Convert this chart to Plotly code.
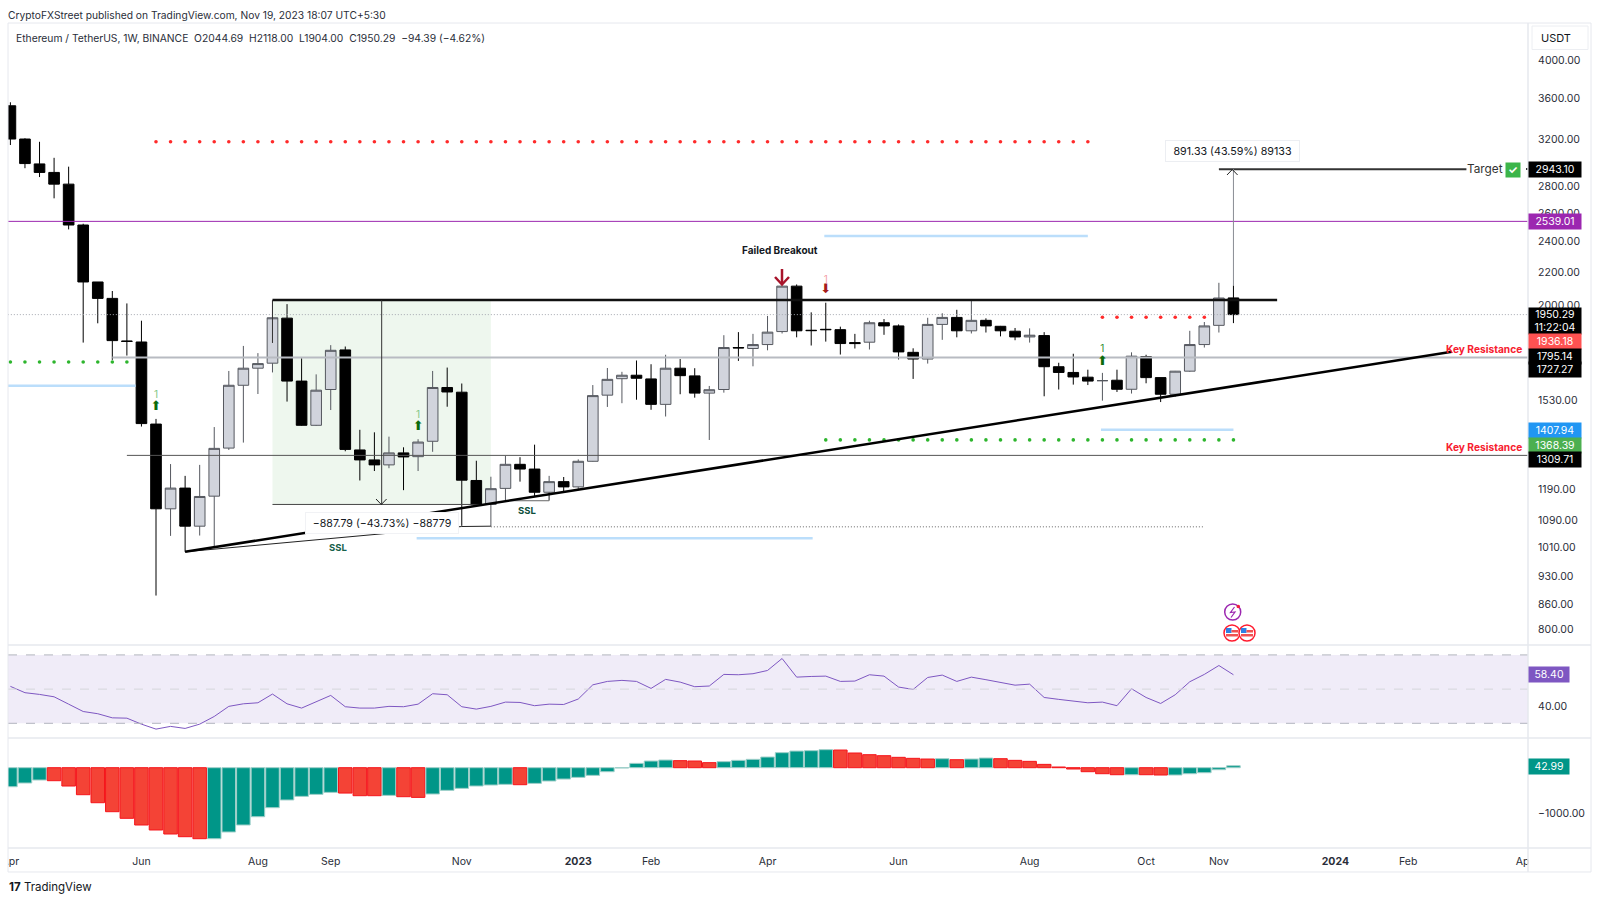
import pandas as pd
import numpy as np
import plotly.graph_objects as go

W, H = 1600, 902
FONT = "Inter"
INK = "#131722"
BORDER = "#e6e8ee"

# weekly candles, ETH/USDT
first_week = pd.Timestamp("2022-04-04")
open_prices = [3521, 3205, 2987, 2916, 2821, 2513, 2139, 2042, 1810, 1805, 1431, 1126, 1194, 1072, 1167, 1337, 1597,
               1676, 1700, 1931, 1616, 1426, 1578, 1765, 1330, 1293, 1275, 1319, 1305, 1363, 1587, 1566, 1220, 1140,
               1193, 1277, 1260, 1180, 1216, 1198, 1288, 1553, 1627, 1643, 1626, 1513, 1676, 1640, 1562, 1578, 1777,
               1772, 1792, 1859, 2114, 1866, 1871, 1869, 1802, 1804, 1906, 1889, 1753, 1720, 1897, 1935, 1863, 1919,
               1887, 1861, 1831, 1838, 1683, 1656, 1634, 1618, 1620, 1579, 1732, 1632, 1557, 1662, 1792, 1892, 2044.69]
high_prices = [3556, 3212, 3180, 3039, 2964, 2522, 2139, 2085, 2013, 1917, 1452, 1278, 1236, 1275, 1419, 1663, 1785,
               1749, 2032, 2009, 1724, 1647, 1789, 1782, 1408, 1398, 1381, 1340, 1371, 1663, 1679, 1605, 1290, 1233,
               1308, 1303, 1350, 1236, 1232, 1295, 1598, 1677, 1659, 1713, 1695, 1741, 1720, 1676, 1594, 1840, 1856,
               1847, 1943, 2118, 2124, 1963, 2017, 1885, 1847, 1917, 1926, 1897, 1773, 1933, 1958, 1977, 2030, 1930,
               1889, 1878, 1876, 1856, 1702, 1746, 1669, 1654, 1669, 1753, 1741, 1632, 1663, 1863, 1910, 2134, 2118.00]
low_prices = [3151, 2951, 2878, 2710, 2482, 1802, 1903, 1716, 1737, 1421, 881, 1043, 997, 1044, 1008, 1330, 1358,
              1558, 1656, 1525, 1424, 1424, 1489, 1325, 1220, 1253, 1263, 1187, 1253, 1323, 1503, 1073, 1135, 1072,
              1152, 1216, 1165, 1154, 1182, 1190, 1287, 1502, 1518, 1533, 1490, 1462, 1557, 1542, 1368, 1564, 1711,
              1685, 1763, 1849, 1829, 1787, 1807, 1742, 1772, 1767, 1842, 1718, 1626, 1698, 1816, 1829, 1849, 1854,
              1834, 1814, 1802, 1548, 1578, 1600, 1598, 1529, 1567, 1560, 1606, 1523, 1546, 1659, 1777, 1854, 1904.00]
close_prices = [3205, 2990, 2916, 2821, 2513, 2139, 2042, 1812, 1808, 1433, 1126, 1194, 1072, 1166, 1336, 1597, 1676,
                1698, 1933, 1616, 1426, 1575, 1763, 1332, 1293, 1275, 1319, 1304, 1360, 1587, 1567, 1221, 1139, 1192,
                1277, 1260, 1180, 1216, 1198, 1288, 1551, 1624, 1643, 1629, 1513, 1676, 1641, 1562, 1577, 1777, 1775,
                1792, 1856, 2114, 1863, 1864, 1869, 1797, 1797, 1906, 1889, 1755, 1720, 1897, 1935, 1863, 1919, 1889,
                1863, 1831, 1840, 1683, 1656, 1635, 1616, 1618, 1579, 1734, 1632, 1557, 1662, 1792, 1889, 2044, 1950.29]

rsi_values = [51.6, 47.9, 46.9, 45.5, 41.2, 36.9, 35.6, 33.2, 33.0, 29.5, 26.6, 28.2, 27.0, 29.5, 34.0, 39.9, 41.4,
              42.0, 47.1, 41.4, 38.9, 42.4, 46.3, 39.7, 38.9, 38.9, 39.9, 39.7, 41.2, 47.3, 46.7, 39.7, 38.3, 39.9,
              42.4, 42.2, 40.3, 41.2, 41.0, 44.2, 52.5, 54.5, 55.1, 54.5, 50.4, 55.7, 54.1, 51.4, 51.8, 58.6, 58.4,
              59.0, 60.9, 67.9, 57.0, 57.4, 57.6, 54.5, 54.7, 58.4, 57.6, 51.2, 49.8, 56.8, 58.2, 54.5, 57.0, 55.5,
              54.1, 52.3, 52.9, 45.1, 44.0, 43.0, 42.0, 42.4, 40.3, 50.2, 45.1, 41.6, 46.7, 54.3, 58.6, 63.8, 58.4]

macd_values = [-417, -336, -270, -285, -402, -592, -768, -965, -1110, -1257, -1366, -1454, -1513, -1557, -1557, -1410,
               -1257, -1075, -877, -708, -629, -585, -541, -556, -614, -614, -607, -636, -651, -577, -497, -453, -402,
               -380, -365, -373, -344, -292, -249, -212, -168, -88, -7, 95, 146, 168, 154, 146, 110, 132, 161, 183,
               234, 329, 365, 373, 395, 387, 322, 285, 263, 227, 205, 190, 197, 175, 190, 212, 197, 161, 139, 73, 15,
               -29, -88, -132, -154, -154, -154, -161, -161, -132, -110, -44, 42.99]
macd_signs = list("ggg" + "r" * 11 + "g" * 9 + "rrr" + "g" + "rr" + "g" * 6 + "r" + "g" * 10 + "rrr" + "g" * 8
                  + "r" * 7 + "g" + "r" + "gg" + "r" * 9 + "g" + "rr" + "ggggg")

# axis ticks
price_ticks = [4000, 3600, 3200, 2800, 2600, 2400, 2200, 2000, 1530, 1190, 1090, 1010, 930, 860, 800]
time_ticks = ["2022-04-04", "2022-06-06", "2022-08-01", "2022-09-05", "2022-11-07", "2023-01-02", "2023-02-06",
              "2023-04-03", "2023-06-05", "2023-08-07", "2023-10-02", "2023-11-06", "2024-01-01", "2024-02-05",
              "2024-04-01"]
time_labels = ["Apr", "Jun", "Aug", "Sep", "Nov", "<b>2023</b>", "Feb", "Apr", "Jun", "Aug", "Oct", "Nov",
               "<b>2024</b>", "Feb", "Apr"]

# drawn levels on the price pane
target_level = 2943.10
purple_level = 2539.01
last_close = 1950.29
breakout_level = 2032
gray_level = 1727.27
key_level = 1309.71
blue_level = 1407.94
green_level = 1368.39
red_dots_high = 3180
red_dots_low = 1936.18
green_dots_left = 1706
zone_bottom = 1140
dotted_low = 1070

# axis-side price tags: text, colour, pixel centre
tags = [("2943.10", "#000000", 169), ("2539.01", "#9c27b0", 221.3), ("1950.29<br>11:22:04", "#000000", 321),
        ("1936.18", "#ff5252", 341.5), ("1795.14", "#000000", 356), ("1727.27", "#000000", 370),
        ("1407.94", "#2196f3", 430), ("1368.39", "#4caf50", 445), ("1309.71", "#000000", 459),
        ("58.40", "#7e57c2", 674.5), ("42.99", "#009688", 766)]


def wk(i):
    return first_week + pd.Timedelta(days=7 * i)


def px(x, y):
    return x / W, 1 - y / H


def path(points):
    parts = ["%.5f,%.5f" % px(x, y) for x, y in points]
    return "M " + " L ".join(parts)


weeks = [wk(i) for i in range(len(close_prices))]
fig = go.Figure()


def add_line(x_weeks, prices, color, width=1, dash="solid"):
    fig.add_trace(go.Scatter(x=[wk(i) for i in x_weeks], y=prices, mode="lines", hoverinfo="skip",
                             line=dict(color=color, width=width, dash=dash)))


def add_dots(x_weeks, price, color):
    fig.add_trace(go.Scatter(x=[wk(i) for i in x_weeks], y=[price] * len(x_weeks), mode="markers",
                             marker=dict(color=color, size=3.6), hoverinfo="skip"))


RIGHT = 104.3
add_line([-1, RIGHT], [last_close, last_close], "#a5a8b0", 1, "1px,2px")
add_line([-1, RIGHT], [purple_level, purple_level], "#9c27b0", 1)
add_line([7, RIGHT], [gray_level, gray_level], "#b8bbc2", 2)
add_line([8, RIGHT], [key_level, key_level], "#555555", 1)
add_line([-1, 8.6], [1595, 1595], "#bbdefb", 2.5)
add_line([55.9, 74], [2436, 2436], "#bbdefb", 2.5)
add_line([27.9, 55.1], [1036, 1036], "#bbdefb", 2.5)
add_line([74.9, 84], [blue_level, blue_level], "#bbdefb", 2.5)
add_line([18, 87], [breakout_level, breakout_level], "#111111", 2.5)
add_line([18, 18], [breakout_level, 1800], "#333333", 1)
add_line([18, 33], [zone_bottom, zone_bottom], "#444444", 1)
add_line([25.5, 25.5], [breakout_level, zone_bottom], "#333333", 1)
add_line([83, 100], [target_level, target_level], "#333333", 2)
add_line([84, 84], [target_level, 2118], "#8a8d94", 1)
add_line([33, 82], [dotted_low, dotted_low], "#666666", 1, "1px,2px")
add_line([12, 31, 33], [997, 1071, 1072], "#222222", 1)
add_line([34, 37, 37], [1152, 1152, 1180], "#666666", 1)

add_dots(list(range(10, 75)), red_dots_high, "#ff2a2a")
add_dots(list(range(75, 83)), red_dots_low, "#ff2a2a")
add_dots(list(range(0, 9)), green_dots_left, "#2db52d")
add_dots(list(range(56, 85)), green_level, "#2db52d")

fig.add_trace(go.Candlestick(x=weeks, open=open_prices, high=high_prices, low=low_prices, close=close_prices,
                             increasing=dict(line=dict(color="#55585f", width=1), fillcolor="#d1d4dc"),
                             decreasing=dict(line=dict(color="#000000", width=1), fillcolor="#000000"),
                             hoverinfo="skip"))

# rising support line
add_line([12, 99], [997, 1756], "#000000", 2.5)

# sequential signals
fig.add_trace(go.Scatter(x=[wk(10), wk(28), wk(75)], y=[1503, 1419, 1708], mode="text", text=["⬆"] * 3,
                         textfont=dict(size=13, family="DejaVu Sans", color="#0b6b0b"), hoverinfo="skip"))
fig.add_trace(go.Scatter(x=[wk(56)], y=[2090], mode="text", text=["⬇"],
                         textfont=dict(size=13, family="DejaVu Sans", color="#a61b1b"), hoverinfo="skip"))
fig.add_trace(go.Scatter(x=[wk(10), wk(28), wk(75), wk(56)], y=[1551, 1465, 1765, 2149], mode="text", text=["1"] * 4,
                         textfont=dict(size=10, family=FONT, color=["#81c784", "#81c784", "#2e8b2e", "#f4a0a8"]),
                         hoverinfo="skip"))

# RSI pane
fig.add_trace(go.Scatter(x=weeks, y=rsi_values, mode="lines", yaxis="y2", hoverinfo="skip",
                         line=dict(color="#7e57c2", width=1)))

# MACD histogram
bar_fill = ["#009688" if s == "g" else "#f44336" for s in macd_signs]
bar_edge = ["#9fcfc9" if s == "g" else "#f5141a" for s in macd_signs]
fig.add_trace(go.Bar(x=weeks, y=macd_values, yaxis="y3", marker=dict(color=bar_fill, line=dict(color=bar_edge, width=1)),
                     hoverinfo="skip"))

# shapes
shapes = [
    dict(type="rect", layer="below", xref="x", yref="y", x0=wk(18), x1=wk(33), y0=zone_bottom, y1=breakout_level,
         fillcolor="#eef7ee", line=dict(width=0)),
    dict(type="rect", layer="below", xref="paper", yref="y2", x0=8 / W, x1=1528 / W, y0=30, y1=70,
         fillcolor="#f0ecf8", line=dict(width=0)),
]
for level, col in [(70, "#b2b5be"), (50, "#d5d6dc"), (30, "#b2b5be")]:
    shapes.append(dict(type="line", xref="paper", yref="y2", x0=8 / W, x1=1528 / W, y0=level, y1=level,
                       line=dict(color=col, width=1, dash="dash")))


def stroke(points, color, width=1, fill=None):
    d = path(points)
    shapes.append(dict(type="path", path=d + (" Z" if fill else ""), xref="paper", yref="paper",
                       line=dict(color=color, width=width), fillcolor=fill))


def circle(cx, cy, r, fill, color, width=1.5):
    x0, y0 = px(cx - r, cy + r)
    x1, y1 = px(cx + r, cy - r)
    shapes.append(dict(type="circle", xref="paper", yref="paper", x0=x0, x1=x1, y0=y0, y1=y1, fillcolor=fill,
                       line=dict(color=color, width=width)))


def box(x0, y0, x1, y1, fill):
    a, b = px(x0, y1)
    c, d = px(x1, y0)
    shapes.append(dict(type="rect", xref="paper", yref="paper", x0=a, x1=c, y0=b, y1=d, fillcolor=fill,
                       line=dict(width=0)))


# arrow heads
stroke([(376, 499), (381.3, 504.5), (386.6, 499)], "#222222")
stroke([(1227, 175), (1232.3, 169.5), (1237.6, 175)], "#222222")
stroke([(782, 269), (782, 284)], "#a8142b", 2.5)
stroke([(775, 277), (782, 284.5), (789, 277)], "#a8142b", 2.5)
stroke([(1526, 169), (1528, 169)], "#333333", 2)

# event icons
circle(1232.7, 612, 8, "#ffffff", "#9c27b0")
stroke([(1234.5, 607), (1230.5, 612.5), (1235, 612), (1231, 617.5)], "#9c27b0", 1.2)
circle(1238.3, 606.5, 1.8, "#f21e3c", "#f21e3c", 0)
for cx in (1232, 1247):
    circle(cx, 633, 8, "#ffffff", "#ff1a2e")
    box(cx - 6, 628, cx - 0.5, 633, "#2f80e4")
    box(cx - 0.5, 630, cx + 6, 632.5, "#f05252")
    box(cx - 6, 634, cx + 6, 636.5, "#f05252")

# pane frames
box(0, 848.8, 8, 871.5, "#ffffff")
box(1528.5, 848.8, 1591, 871.5, "#ffffff")
stroke([(8, 23), (1591, 23), (1591, 872), (8, 872), (8, 23)], BORDER, 1)
stroke([(8, 645), (1591, 645)], BORDER, 1.5)
stroke([(8, 738), (1591, 738)], BORDER, 1.5)
stroke([(8, 848), (1591, 848)], BORDER, 1.5)
stroke([(1528, 23), (1528, 872)], BORDER, 1.5)
shapes.append(dict(type="rect", xref="paper", yref="paper", x0=1532 / W, x1=1588 / W, y0=1 - 49.5 / H, y1=1 - 26 / H,
                   line=dict(color="#eceef2", width=1), fillcolor="#ffffff"))

annotations = []


def note(x, y, text, size=11, color=INK, anchor="left", **kw):
    a, b = px(x, y)
    annotations.append(dict(x=a, y=b, xref="paper", yref="paper", text=text, showarrow=False, xanchor=anchor,
                            yanchor="middle", font=dict(size=size, color=color, family=FONT), **kw))


note(6, 15, "CryptoFXStreet published on TradingView.com, Nov 19, 2023 18:07 UTC+5:30", 10.25, "#2a2e39")
note(13.5, 38, "Ethereum / TetherUS, 1W, BINANCE  O2044.69  H2118.00  L1904.00  C1950.29  −94.39 (−4.62%)", 10.3, "#2a2e39")
note(1539, 38, "USDT", 11)
note(780, 250, "<b>Failed Breakout</b>", 10, INK, "center")
note(1524, 349.3, "<b>Key Resistance</b>", 10.2, "#f7202f", "right")
note(1524, 447, "<b>Key Resistance</b>", 10.2, "#f7202f", "right")
note(338, 547, "<b>SSL</b>", 9.5, "#17614b", "center")
note(526.5, 510, "<b>SSL</b>", 9.5, "#0e4f3b", "center")
note(382, 523.4, "−887.79 (−43.73%) −88779", 10.6, INK, "center", bgcolor="#ffffff", bordercolor="#f1f2f5",
     width=152, height=20, borderpad=0)
note(1232.5, 151, "891.33 (43.59%) 89133", 10.7, INK, "center", bgcolor="#ffffff", bordercolor="#eceef2",
     width=133, height=20, borderpad=0)
note(1465, 169, "Target", 11.8, "#333333")
note(1513, 170, "<b>✓</b>", 11, "#ffffff", "center", bgcolor="#3cb54a", width=14, height=14, borderpad=0)
note(7, 887, "<b>17</b> TradingView", 11.5, "#131722")

for text, color, y in tags:
    n = 7 if len(text) >= 7 else 5
    note(1528, y, text, 10.5, "#ffffff", "left", bgcolor=color, width=52 if n == 7 else 40,
         height=26 if "<br>" in text else 14.5, borderpad=0)

fig.update_layout(
    width=W, height=H, margin=dict(l=0, r=0, t=0, b=0), autosize=False,
    paper_bgcolor="#ffffff", plot_bgcolor="#ffffff", showlegend=False, bargap=0.07, boxgap=0.27, boxgroupgap=0,
    font=dict(family=FONT, size=11, color=INK), shapes=shapes, annotations=annotations,
    xaxis=dict(domain=[8 / W, 1528 / W], anchor="y3", type="date", range=[wk(-0.165), wk(104.23)], automargin=False,
               rangeslider=dict(visible=False), showgrid=False, zeroline=False, showline=False,
               tickmode="array", tickvals=time_ticks, ticktext=time_labels, ticks="outside", ticklen=3,
               tickcolor="rgba(0,0,0,0)", tickfont=dict(size=10.5, color="#2a2e39")),
    yaxis=dict(domain=[1 - 645 / H, 1 - 23 / H], type="log", side="right", anchor="x", automargin=False,
               range=[np.log10(766), np.log10(4450)], showgrid=False, zeroline=False, showline=False,
               tickmode="array", tickvals=price_ticks, ticktext=["%.2f" % v for v in price_ticks],
               ticks="outside", ticklen=7, tickcolor="rgba(0,0,0,0)", tickfont=dict(size=10.5, color="#2a2e39")),
    yaxis2=dict(domain=[1 - 738 / H, 1 - 645 / H], side="right", anchor="x", range=[21.4, 75.8], showgrid=False,
                automargin=False, zeroline=False, showline=False, tickmode="array", tickvals=[40], ticktext=["40.00"],
                ticks="outside", ticklen=7, tickcolor="rgba(0,0,0,0)", tickfont=dict(size=10.5, color="#2a2e39")),
    yaxis3=dict(domain=[1 - 848 / H, 1 - 738 / H], side="right", anchor="x", range=[-1761, 651], showgrid=False,
                automargin=False, zeroline=False, showline=False, tickmode="array", tickvals=[-1000],
                ticktext=["−1000.00"], ticks="outside", ticklen=7, tickcolor="rgba(0,0,0,0)",
                tickfont=dict(size=10.5, color="#2a2e39")),
)

fig.write_html("out.html", config={"displayModeBar": False},
               post_script="document.body.style.margin='0';document.body.style.overflow='hidden';")
